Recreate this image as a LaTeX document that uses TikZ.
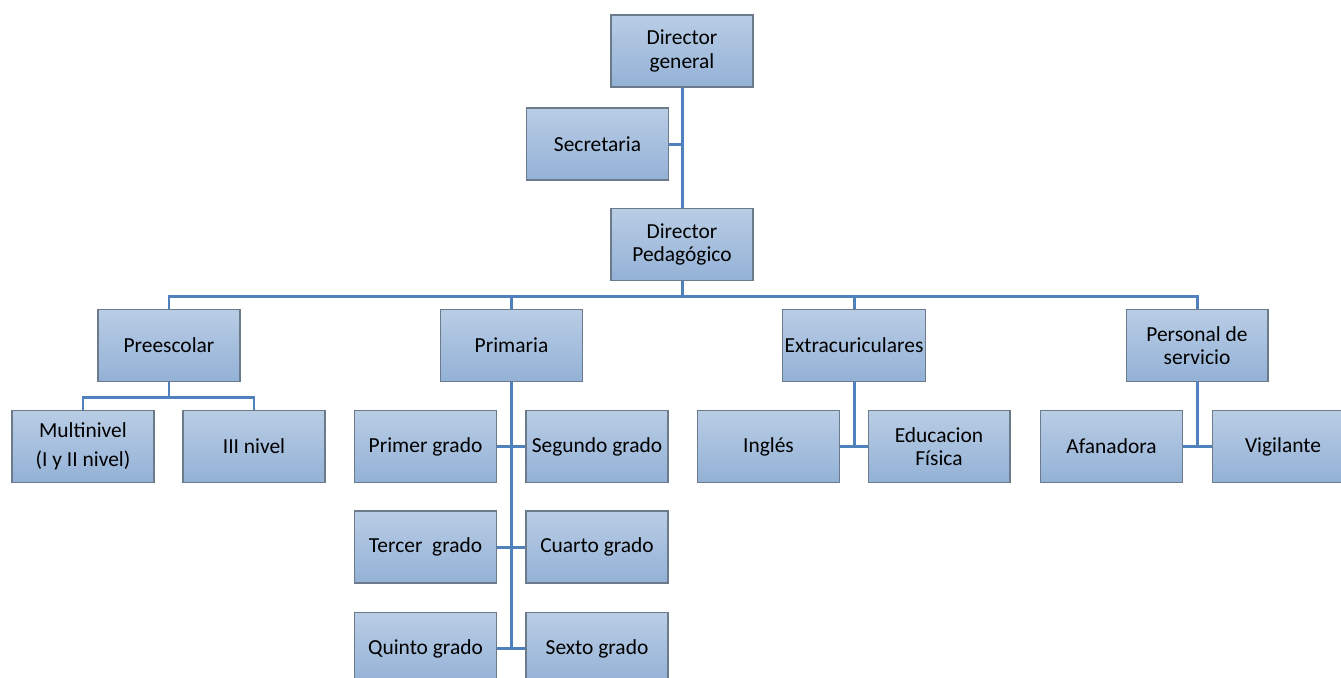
\documentclass[tikz,border=0pt]{standalone}
\usepackage{fontspec}
\setmainfont{Carlito}
\definecolor{boxtop}{HTML}{B9CDE5}
\definecolor{boxbot}{HTML}{93B1D6}
\definecolor{boxline}{HTML}{6B7B8C}
\definecolor{linkc}{HTML}{4F81BD}
\tikzset{
    BX/.style ={rectangle, minimum width = 2.84cm, minimum height = 1.44cm, draw=boxline, line width=0.6pt,
                top color=boxtop, bottom color=boxbot, align=center, inner sep=1pt,
                font=\fontsize{12.2}{13.5}\selectfont},
    LK/.style ={draw=linkc, line width=1.7pt}
}
\begin{document}
\begin{tikzpicture}[x=0.02cm,y=-0.02cm]
            \useasboundingbox (0,0) rectangle (1341,677);
            % direccion
            \node[BX] (dg)  at (682,51)    {Director\\general};
            \node[BX] (sec) at (597.5,144) {Secretaria};
            \node[BX] (dp)  at (682,244.5) {Director\\Pedagógico};
            % areas
            \node[BX] (pre) at (169,345.5)  {Preescolar};
            \node[BX] (pri) at (511.5,345.5){Primaria};
            \node[BX] (ext) at (854,345.5)  {Extracuriculares};
            \node[BX] (per) at (1197,345.5) {Personal de\\servicio};
            % preescolar
            \node[BX] (mul) at (83,446.5)  {Multinivel\\[3pt](I y II nivel)};
            \node[BX] (iii) at (254,446.5) {III nivel};
            % primaria
            \node[BX] (g1) at (425.5,446.5) {Primer grado};
            \node[BX] (g2) at (597,446.5)   {Segundo grado};
            \node[BX] (g3) at (425.5,547)   {Tercer\ \ grado};
            \node[BX] (g4) at (597,547)     {Cuarto grado};
            \node[BX] (g5) at (425.5,648.5) {Quinto grado};
            \node[BX] (g6) at (597,648.5)   {Sexto grado};
            % extracuriculares y servicio
            \node[BX] (ing) at (768.5,446.5) {Inglés};
            \node[BX] (edu) at (939,446.5)   {Educacion\\Física};
            \node[BX] (afa) at (1111.5,446.5){Afanadora};
            \node[BX] (vig) at (1283,446.5)  {Vigilante};
            % conectores
            \coordinate (bus) at (682,296);
            \coordinate (prebus) at (169,397);
            \draw[LK] (dg.south) -- (dp.north);
            \draw[LK] (sec.east) -- (sec.east -| dg.south);
            \draw[LK] (dp.south) -- (bus);
            \draw[LK] (pre.north) |- (bus) -| (per.north);
            \draw[LK] (pri.north) -- (pri.north |- bus);
            \draw[LK] (ext.north) -- (ext.north |- bus);
            \draw[LK] (pre.south) -- (prebus);
            \draw[LK] (mul.north) |- (prebus) -| (iii.north);
            \draw[LK] (pri.south) -- (pri.south |- g5.east);
            \draw[LK] (g1.east) -- (g2.west);
            \draw[LK] (g3.east) -- (g4.west);
            \draw[LK] (g5.east) -- (g6.west);
            \draw[LK] (ext.south) -- (ext.south |- ing.east);
            \draw[LK] (ing.east) -- (edu.west);
            \draw[LK] (per.south) -- (per.south |- afa.east);
            \draw[LK] (afa.east) -- (vig.west);
\end{tikzpicture}
\end{document}
